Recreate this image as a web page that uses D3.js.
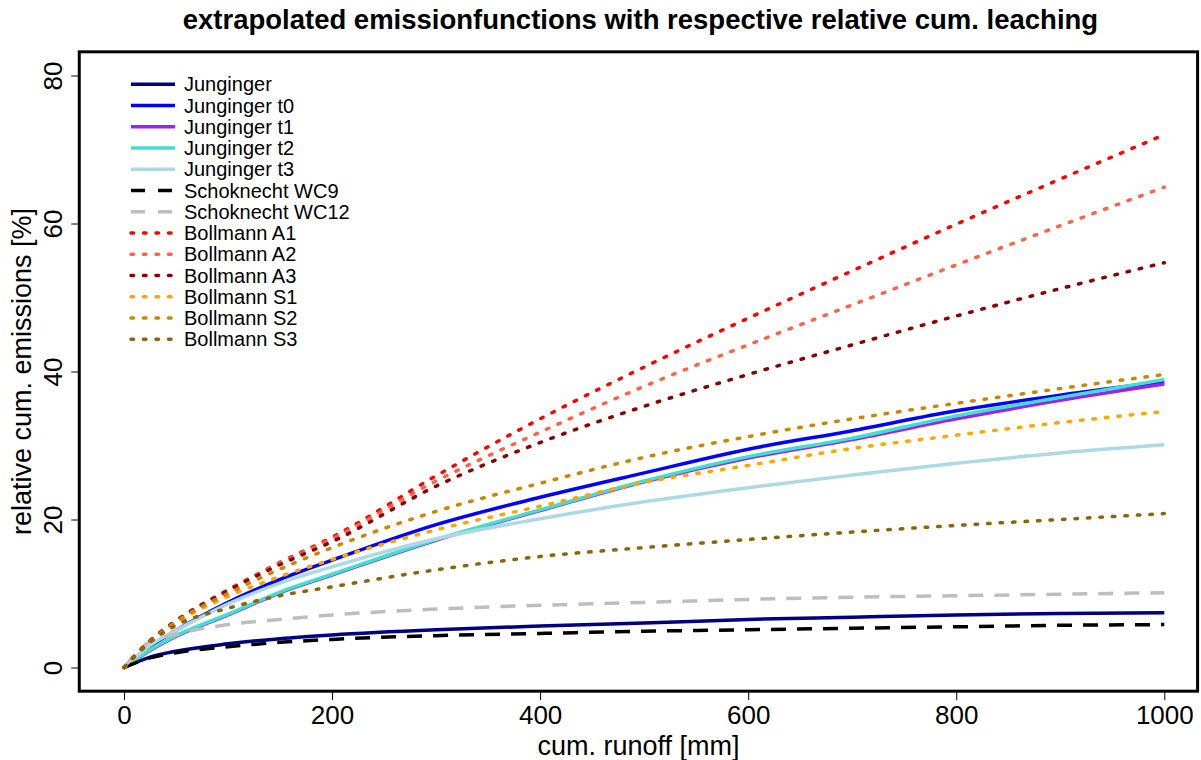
<!DOCTYPE html>
<html>
<head>
<meta charset="utf-8">
<script src="https://cdn.jsdelivr.net/npm/d3@7"></script>
<style>
  body { margin: 0; background: #fff; }
  text { font-family: "Liberation Sans", Arial, sans-serif; }
</style>
</head>
<body>
<script>
const runoff = [0, 25, 50, 100, 150, 200, 300, 400, 500, 600, 700, 800, 900, 1000]

// relative cum. emissions [%]
const junginger   = [0, 1.4, 2.2, 3.2, 3.9, 4.4, 5.1, 5.6, 6.0, 6.5, 6.8, 7.1, 7.3, 7.4]
const jungingerT0 = [0, 2.8, 5.0, 8.8, 11.9, 14.5, 19.3, 23.0, 26.3, 29.5, 32.0, 34.7, 36.8, 38.6]
const jungingerT1 = [0, 2.3, 4.2, 7.1, 10.1, 12.5, 17.2, 21.2, 25.1, 28.3, 30.8, 33.6, 36.1, 38.3]
const jungingerT2 = [0, 2.4, 4.3, 7.2, 10.2, 12.6, 17.3, 21.3, 25.2, 28.5, 31.0, 34.0, 36.5, 38.9]
const jungingerT3 = [0, 3.0, 5.0, 8.6, 11.4, 13.6, 17.4, 20.1, 22.4, 24.3, 26.0, 27.6, 29.0, 30.1]
const schoknechtWC9  = [0, 1.3, 2.0, 2.8, 3.4, 3.8, 4.3, 4.6, 4.9, 5.1, 5.3, 5.5, 5.7, 5.8]
const schoknechtWC12 = [0, 3.5, 4.5, 5.8, 6.5, 7.1, 7.9, 8.4, 8.8, 9.2, 9.5, 9.7, 9.9, 10.1]
const bollmannA1 = [0, 3.6, 6.3, 10.5, 14.2, 17.6, 25.9, 33.6, 40.6, 47.2, 53.6, 59.9, 66.0, 72.0]
const bollmannA2 = [0, 3.6, 6.3, 10.5, 14.1, 17.4, 25.2, 31.8, 38.0, 43.6, 49.0, 54.4, 59.7, 64.9]
const bollmannA3 = [0, 3.6, 6.3, 10.4, 13.9, 17.0, 24.5, 30.4, 35.3, 39.6, 43.6, 47.5, 51.2, 54.7]
const bollmannS1 = [0, 3.4, 6.0, 9.6, 12.3, 14.6, 18.6, 21.8, 25.0, 27.3, 29.6, 31.4, 33.1, 34.6]
const bollmannS2 = [0, 3.5, 6.2, 10.0, 13.3, 16.2, 21.1, 24.9, 28.4, 31.2, 33.6, 35.7, 37.7, 39.6]
const bollmannS3 = [0, 3.4, 5.7, 8.0, 9.7, 10.9, 13.2, 15.0, 16.2, 17.3, 18.3, 19.2, 20.0, 20.8]

const seriesNames = ['Junginger', 'Junginger t0', 'Junginger t1', 'Junginger t2', 'Junginger t3',
  'Schoknecht WC9', 'Schoknecht WC12', 'Bollmann A1', 'Bollmann A2', 'Bollmann A3',
  'Bollmann S1', 'Bollmann S2', 'Bollmann S3']
const seriesValues = [junginger, jungingerT0, jungingerT1, jungingerT2, jungingerT3,
  schoknechtWC9, schoknechtWC12, bollmannA1, bollmannA2, bollmannA3,
  bollmannS1, bollmannS2, bollmannS3]

const xTicks = [0, 200, 400, 600, 800, 1000]
const yTicks = [0, 20, 40, 60, 80]

// R colours and line types
const colors = ['#000080', '#0000ff', '#a020f0', '#40e0d0', '#add8e6', '#000000', '#bebebe',
  '#ff0000', '#ff6347', '#8b0000', '#ffa500', '#cd8500', '#8b6508']
const lty = ['solid', 'solid', 'solid', 'solid', 'solid', 'dashed', 'dashed',
  'dotted', 'dotted', 'dotted', 'dotted', 'dotted', 'dotted']
const dash = { solid: null, dashed: '15,11', dotted: '2.5,10' }

const width = 1201, height = 760

const svg = d3.select('body')
    .append('svg')
    .attr('width', width)
    .attr('height', height)

const x = d3.scaleLinear().domain([0, 1000]).range([124, 1164.3])
const y = d3.scaleLinear().domain([0, 80]).range([667.5, 75.5])

// plot region (R adds 4% on each side)
const xLim = [-43, 1032], yLim = [-3.2, 83.2]

const line = d3.line()
    .x(d => x(d[0]))
    .y(d => y(d[1]))
    .curve(d3.curveMonotoneX)

seriesValues.forEach((vals, i) => {
  svg.append('path')
      .datum(runoff.map((r, j) => [r, vals[j]]))
      .attr('d', line)
      .attr('fill', 'none')
      .attr('stroke', colors[i])
      .attr('stroke-width', 3.5)
      .attr('stroke-linecap', lty[i] === 'dotted' ? 'round' : 'butt')
      .attr('stroke-dasharray', dash[lty[i]])
})

// box
svg.append('rect')
    .attr('x', x(xLim[0]))
    .attr('y', y(yLim[1]))
    .attr('width', x(xLim[1]) - x(xLim[0]))
    .attr('height', y(yLim[0]) - y(yLim[1]))
    .attr('fill', 'none')
    .attr('stroke', '#000')
    .attr('stroke-width', 3)

// x axis
const xAxis = svg.append('g')
    .attr('transform', `translate(0,${y(yLim[0])})`)
    .call(d3.axisBottom(x).tickValues(xTicks).tickFormat(d3.format('d')).tickSize(9).tickPadding(5))
xAxis.select('.domain').remove()
xAxis.selectAll('text').attr('font-size', 26).attr('fill', '#000')
    .attr('font-family', '"Liberation Sans", Arial, sans-serif')

// y axis, labels turned like R's las = 0
const yAxis = svg.append('g')
    .attr('transform', `translate(${x(xLim[0])},0)`)
    .call(d3.axisLeft(y).tickValues(yTicks).tickSize(8))
yAxis.select('.domain').remove()
yAxis.selectAll('text')
    .attr('font-size', 26).attr('fill', '#000')
    .attr('font-family', '"Liberation Sans", Arial, sans-serif')
    .attr('x', null).attr('dy', null)
    .attr('text-anchor', 'middle')
    .attr('transform', 'translate(-17,0) rotate(-90)')

// titles
svg.append('text')
    .attr('x', (x(xLim[0]) + x(xLim[1])) / 2 + 2)
    .attr('y', 29)
    .attr('text-anchor', 'middle')
    .attr('font-size', 27.5)
    .attr('font-weight', 'bold')
    .text('extrapolated emissionfunctions with respective relative cum. leaching')

svg.append('text')
    .attr('x', (x(xLim[0]) + x(xLim[1])) / 2)
    .attr('y', 755)
    .attr('text-anchor', 'middle')
    .attr('font-size', 27)
    .text('cum. runoff [mm]')

svg.append('text')
    .attr('transform', `translate(31,${(y(yLim[0]) + y(yLim[1])) / 2}) rotate(-90)`)
    .attr('text-anchor', 'middle')
    .attr('font-size', 27)
    .text('relative cum. emissions [%]')

// legend
const legend = svg.append('g')
    .selectAll('g')
    .data(seriesNames)
    .enter()
    .append('g')
    .attr('transform', (d, i) => `translate(131,${84.3 + i * 21.25})`)

legend.append('line')
    .attr('x1', 0)
    .attr('x2', 44)
    .attr('stroke', (d, i) => colors[i])
    .attr('stroke-width', 3.5)
    .attr('stroke-linecap', (d, i) => lty[i] === 'dotted' ? 'round' : 'butt')
    .attr('stroke-dasharray', (d, i) => lty[i] === 'dashed' ? '14,13' : dash[lty[i]])

legend.append('text')
    .attr('x', 53)
    .attr('y', 7)
    .attr('font-size', 20)
    .text(d => d)
</script>
</body>
</html>
